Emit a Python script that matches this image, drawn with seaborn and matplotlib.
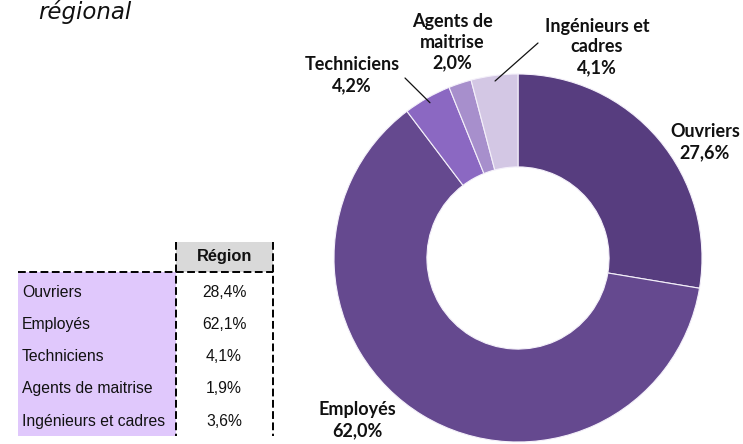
import matplotlib
matplotlib.use('Agg')
import matplotlib.pyplot as plt
import seaborn as sns
import numpy as np
from matplotlib import font_manager
from matplotlib.lines import Line2D
from matplotlib.patches import Rectangle

# data
categories = ['Ouvriers', 'Employés', 'Techniciens', 'Agents de maitrise', 'Ingénieurs et cadres']
donut_labels = ['Ouvriers', 'Employés', 'Techniciens', 'Agents de\nmaitrise', 'Ingénieurs et\ncadres']
donut_values = [27.6, 62.0, 4.2, 2.0, 4.1]
region_values = [28.4, 62.1, 4.1, 1.9, 3.6]
colors = ['#573d7f', '#65498f', '#8b68c2', '#a78fcc', '#d3c7e4']

sns.set_theme(style='white')
plt.rcParams['font.family'] = ['DejaVu Sans']

W, H = 743, 444
fig = plt.figure(figsize=(W / 100, H / 100), dpi=100)

def fx(px):
    return px / W

def fy(py):
    return 1 - py / H

# donut
cx, cy, r = 518, 258, 184
ax = fig.add_axes([fx(cx - r), fy(cy + r), 2 * r / W, 2 * r / H])
wedges, _ = ax.pie(donut_values, colors=colors, startangle=90, counterclock=False,
                   radius=1, wedgeprops=dict(width=0.505, edgecolor='#f4f0fa', linewidth=0.8))
ax.set_xlim(-1, 1)
ax.set_ylim(-1, 1)
ax.set_aspect('equal')
ax.axis('off')

def fmt(v):
    return ('%.1f%%' % v).replace('.', ',')

lab_font = dict(family=['Lato', 'DejaVu Sans'], fontweight='bold', fontsize=13,
                color='#111111', ha='center', va='center', linespacing=1.25)
# label centres (px)
label_pos = [(705, 142), (357, 420), (352, 75), (452, 42), (597, 47)]
for lab, v, (px, py) in zip(donut_labels, donut_values, label_pos):
    fig.text(fx(px), fy(py), lab + '\n' + fmt(v), **lab_font)

# leader lines for the small slices
cum = np.cumsum([0] + donut_values)
tot = cum[-1]
for i, start in [(2, (405, 78)), (4, (538, 43))]:
    mid = (cum[i] + cum[i + 1]) / 2 / tot
    ang = np.deg2rad(90 - 360 * mid)
    ax.annotate('', xy=(0.97 * np.cos(ang), 0.97 * np.sin(ang)), xycoords='data',
                xytext=(fx(start[0]), fy(start[1])), textcoords='figure fraction',
                arrowprops=dict(arrowstyle='-', color='#111111', lw=0.9, shrinkA=0, shrinkB=0))

# title fragment
fig.text(fx(38), fy(19), 'régional', fontsize=16.5, style='italic', color='#111111',
         ha='left', va='baseline', family=['DejaVu Sans'])

# table font: narrow if available
names = {f.name for f in font_manager.fontManager.ttflist}
tab_font = next((n for n in ['Liberation Sans Narrow', 'Liberation Sans', 'Lato'] if n in names), 'DejaVu Sans')

# fit size so the longest row label spans ~143 px
renderer = fig.canvas.get_renderer()
probe = fig.text(0, 0, categories[-1], fontsize=12.5, family=[tab_font])
wpx = probe.get_window_extent(renderer).width
probe.remove()
tab_size = min(13.0, 12.5 * 143 / wpx)

col_l, col_m, col_r = 18, 176, 273
top, head_bot, bot = 242, 272, 436
fig.patches.append(Rectangle((fx(col_l), fy(bot)), fx(col_m) - fx(col_l), fy(head_bot) - fy(bot),
                             transform=fig.transFigure, facecolor='#e0c8fc', edgecolor='none', zorder=0))
fig.patches.append(Rectangle((fx(col_m), fy(head_bot)), fx(col_r) - fx(col_m), fy(top) - fy(head_bot),
                             transform=fig.transFigure, facecolor='#d9d9d9', edgecolor='none', zorder=0))
dash = dict(color='#000000', lw=1.4, linestyle=(0, (4, 1.8)), transform=fig.transFigure)
fig.lines.append(Line2D([fx(col_l), fx(col_r)], [fy(head_bot), fy(head_bot)], **dash))
fig.lines.append(Line2D([fx(col_m), fx(col_m)], [fy(top), fy(bot)], **dash))
fig.lines.append(Line2D([fx(col_r), fx(col_r)], [fy(top), fy(bot)], **dash))

fig.text(fx((col_m + col_r) / 2), fy(257), 'Région', fontsize=tab_size + 0.5, fontweight='bold',
         family=[tab_font], ha='center', va='center', color='#111111')
row_y = [292, 324.5, 356.5, 388.5, 421]
for cat, v, y in zip(categories, region_values, row_y):
    fig.text(fx(22), fy(y), cat, fontsize=tab_size, family=[tab_font], ha='left', va='center', color='#111111')
    fig.text(fx(224), fy(y), fmt(v), fontsize=tab_size, family=[tab_font], ha='center', va='center', color='#111111')

fig.savefig('out.png', dpi=100)
